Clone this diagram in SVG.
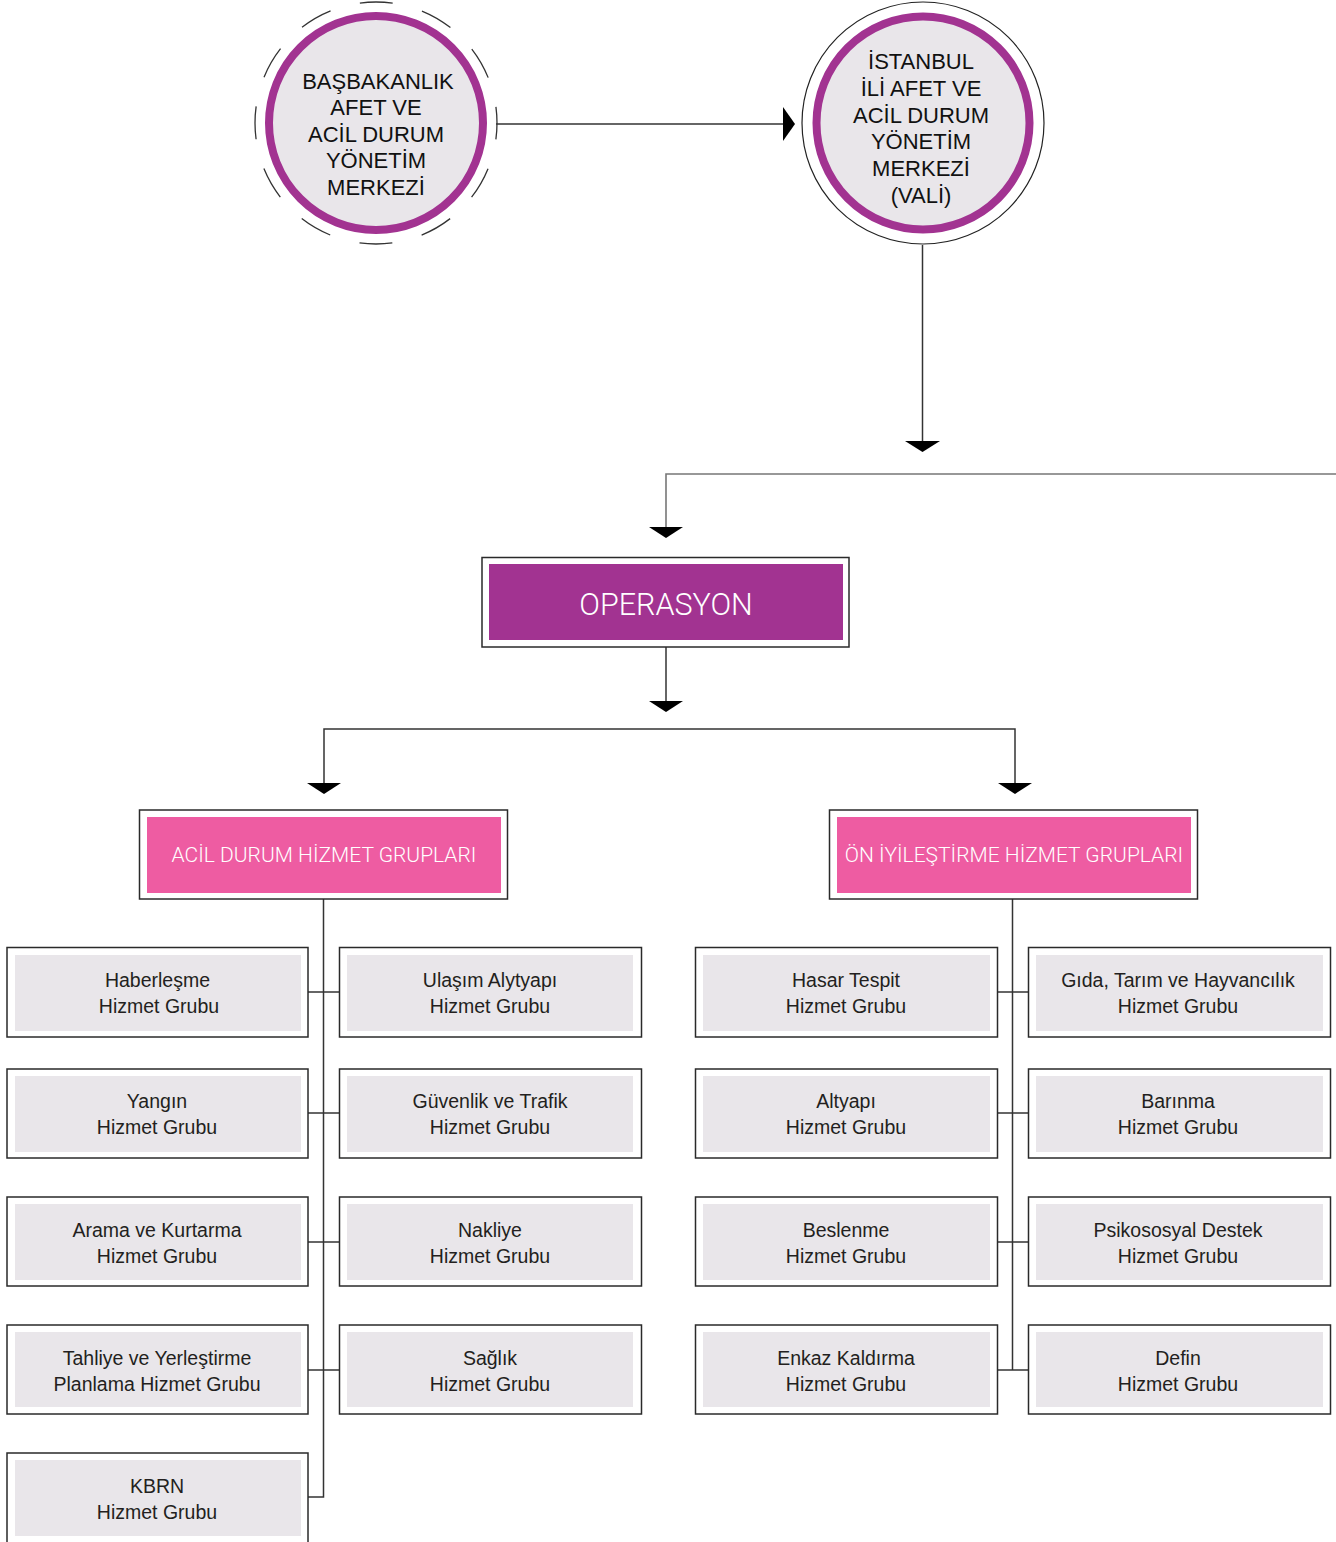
<svg xmlns="http://www.w3.org/2000/svg" width="1336" height="1542" viewBox="0 0 1336 1542">
<style>
.bg{fill:#ffffff}
.ring{fill:#E9E6EA;stroke:#A23391;stroke-width:8}
.ctext{font-family:"Liberation Sans",Arial,sans-serif;font-size:22px;fill:#111;text-anchor:middle}
.frame{fill:#fff;stroke:#2a2a2a;stroke-width:1.5}
.purple{fill:#A23391}
.pink{fill:#EE5CA2}
.grey{fill:#E9E6EA}
.htext{font-family:Roboto,"Liberation Sans",sans-serif;font-weight:300;fill:#fff;text-anchor:middle}
.btext{font-family:"Liberation Sans",Arial,sans-serif;font-size:19.5px;fill:#231F20;text-anchor:middle}
.conn{fill:none;stroke:#333;stroke-width:1.5}
.connl{fill:none;stroke:#777;stroke-width:1.6}
.head{fill:#000}
</style>
<rect class="bg" x="0" y="0" width="1336" height="1542"/>

<g id="connectors">
  <line class="conn" x1="496" y1="124" x2="785" y2="124"/>
  <polygon class="head" points="783,107 795,124 783,141"/>
  <line class="conn" x1="922.5" y1="245" x2="922.5" y2="442"/>
  <polygon class="head" points="905,441 940,441 922.5,452"/>
  <polyline class="connl" points="1336,474 666,474 666,528"/>
  <polygon class="head" points="649,527 683,527 666,538"/>
  <line class="conn" x1="666" y1="647" x2="666" y2="702"/>
  <polygon class="head" points="649,701 683,701 666,712"/>
  <polyline class="conn" points="324,784 324,729 1015,729 1015,784"/>
  <polygon class="head" points="307,783 341,783 324,794"/>
  <polygon class="head" points="998,783 1032,783 1015,794"/>
  <polyline class="conn" points="323.5,899 323.5,1497 308,1497"/>
  <line class="conn" x1="308" y1="992" x2="339" y2="992"/>
  <line class="conn" x1="308" y1="1113" x2="339" y2="1113"/>
  <line class="conn" x1="308" y1="1242" x2="339" y2="1242"/>
  <line class="conn" x1="308" y1="1370" x2="339" y2="1370"/>
  <line class="conn" x1="1012.5" y1="899" x2="1012.5" y2="1370"/>
  <line class="conn" x1="998" y1="992" x2="1028" y2="992"/>
  <line class="conn" x1="998" y1="1113" x2="1028" y2="1113"/>
  <line class="conn" x1="998" y1="1242" x2="1028" y2="1242"/>
  <line class="conn" x1="998" y1="1370" x2="1028" y2="1370"/>
</g>

<g id="basbakanlik">
  <circle cx="376" cy="123" r="121" fill="none" stroke="#333" stroke-width="1.3" stroke-dasharray="33 30.36" stroke-dashoffset="16.5"/>
  <circle class="ring" cx="376" cy="123" r="107"/>
  <text class="ctext" x="378" y="89">BAŞBAKANLIK</text>
  <text class="ctext" x="376" y="115">AFET VE</text>
  <text class="ctext" x="376" y="142">ACİL DURUM</text>
  <text class="ctext" x="376" y="168">YÖNETİM</text>
  <text class="ctext" x="376" y="195">MERKEZİ</text>
</g>

<g id="istanbul">
  <circle cx="923" cy="123" r="121" fill="none" stroke="#222" stroke-width="1.2"/>
  <circle class="ring" cx="923" cy="123" r="106.5"/>
  <text class="ctext" x="921" y="69">İSTANBUL</text>
  <text class="ctext" x="921" y="96">İLİ AFET VE</text>
  <text class="ctext" x="921" y="123">ACİL DURUM</text>
  <text class="ctext" x="921" y="149">YÖNETİM</text>
  <text class="ctext" x="921" y="176">MERKEZİ</text>
  <text class="ctext" x="921" y="203">(VALİ)</text>
</g>

<g id="operasyon">
  <rect class="frame" x="482" y="557.5" width="367" height="89.5"/>
  <rect class="purple" x="489" y="564" width="354" height="76"/>
  <text class="htext" x="666" y="615" font-size="30.5">OPERASYON</text>
</g>

<g id="acil-durum">
  <rect class="frame" x="139.5" y="810" width="368" height="89"/>
  <rect class="pink" x="147" y="817" width="354" height="76"/>
  <text class="htext" x="324" y="862" font-size="21">ACİL DURUM HİZMET GRUPLARI</text>
</g>

<g id="on-iyilestirme">
  <rect class="frame" x="829.5" y="810" width="368" height="89"/>
  <rect class="pink" x="837" y="817" width="354" height="76"/>
  <text class="htext" x="1014" y="862" font-size="21">ÖN İYİLEŞTİRME HİZMET GRUPLARI</text>
</g>

<g id="haberlesme">
  <rect class="frame" x="7" y="947.5" width="301" height="89.5"/>
  <rect class="grey" x="15" y="955" width="286" height="76"/>
  <text class="btext" x="157.5" y="987">Haberleşme</text>
  <text class="btext" x="159" y="1012.5">Hizmet Grubu</text>
</g>
<g id="ulasim">
  <rect class="frame" x="339.5" y="947.5" width="302" height="89.5"/>
  <rect class="grey" x="347" y="955" width="286" height="76"/>
  <text class="btext" x="490" y="987">Ulaşım Alytyapı</text>
  <text class="btext" x="490" y="1012.5">Hizmet Grubu</text>
</g>
<g id="yangin">
  <rect class="frame" x="7" y="1069" width="301" height="89"/>
  <rect class="grey" x="15" y="1076" width="286" height="76"/>
  <text class="btext" x="157" y="1108">Yangın</text>
  <text class="btext" x="157" y="1133.5">Hizmet Grubu</text>
</g>
<g id="guvenlik">
  <rect class="frame" x="339.5" y="1069" width="302" height="89"/>
  <rect class="grey" x="347" y="1076" width="286" height="76"/>
  <text class="btext" x="490" y="1108">Güvenlik ve Trafik</text>
  <text class="btext" x="490" y="1133.5">Hizmet Grubu</text>
</g>
<g id="arama">
  <rect class="frame" x="7" y="1197" width="301" height="89"/>
  <rect class="grey" x="15" y="1204" width="286" height="76"/>
  <text class="btext" x="157" y="1237">Arama ve Kurtarma</text>
  <text class="btext" x="157" y="1262.5">Hizmet Grubu</text>
</g>
<g id="nakliye">
  <rect class="frame" x="339.5" y="1197" width="302" height="89"/>
  <rect class="grey" x="347" y="1204" width="286" height="76"/>
  <text class="btext" x="490" y="1237">Nakliye</text>
  <text class="btext" x="490" y="1262.5">Hizmet Grubu</text>
</g>
<g id="tahliye">
  <rect class="frame" x="7" y="1325" width="301" height="89"/>
  <rect class="grey" x="15" y="1332" width="286" height="75"/>
  <text class="btext" x="157" y="1365">Tahliye ve Yerleştirme</text>
  <text class="btext" x="157" y="1390.5">Planlama Hizmet Grubu</text>
</g>
<g id="saglik">
  <rect class="frame" x="339.5" y="1325" width="302" height="89"/>
  <rect class="grey" x="347" y="1332" width="286" height="75"/>
  <text class="btext" x="490" y="1365">Sağlık</text>
  <text class="btext" x="490" y="1390.5">Hizmet Grubu</text>
</g>
<g id="kbrn">
  <rect class="frame" x="7" y="1453" width="301" height="100"/>
  <rect class="grey" x="15" y="1460" width="286" height="76"/>
  <text class="btext" x="157" y="1493">KBRN</text>
  <text class="btext" x="157" y="1518.5">Hizmet Grubu</text>
</g>

<g id="hasar">
  <rect class="frame" x="695.5" y="947.5" width="302" height="89.5"/>
  <rect class="grey" x="703" y="955" width="287" height="76"/>
  <text class="btext" x="846" y="987">Hasar Tespit</text>
  <text class="btext" x="846" y="1012.5">Hizmet Grubu</text>
</g>
<g id="gida">
  <rect class="frame" x="1028.5" y="947.5" width="302" height="89.5"/>
  <rect class="grey" x="1036" y="955" width="287" height="76"/>
  <text class="btext" x="1178" y="987">Gıda, Tarım ve Hayvancılık</text>
  <text class="btext" x="1178" y="1012.5">Hizmet Grubu</text>
</g>
<g id="altyapi">
  <rect class="frame" x="695.5" y="1069" width="302" height="89"/>
  <rect class="grey" x="703" y="1076" width="287" height="76"/>
  <text class="btext" x="846" y="1108">Altyapı</text>
  <text class="btext" x="846" y="1133.5">Hizmet Grubu</text>
</g>
<g id="barinma">
  <rect class="frame" x="1028.5" y="1069" width="302" height="89"/>
  <rect class="grey" x="1036" y="1076" width="287" height="76"/>
  <text class="btext" x="1178" y="1108">Barınma</text>
  <text class="btext" x="1178" y="1133.5">Hizmet Grubu</text>
</g>
<g id="beslenme">
  <rect class="frame" x="695.5" y="1197" width="302" height="89"/>
  <rect class="grey" x="703" y="1204" width="287" height="76"/>
  <text class="btext" x="846" y="1237">Beslenme</text>
  <text class="btext" x="846" y="1262.5">Hizmet Grubu</text>
</g>
<g id="psikososyal">
  <rect class="frame" x="1028.5" y="1197" width="302" height="89"/>
  <rect class="grey" x="1036" y="1204" width="287" height="76"/>
  <text class="btext" x="1178" y="1237">Psikososyal Destek</text>
  <text class="btext" x="1178" y="1262.5">Hizmet Grubu</text>
</g>
<g id="enkaz">
  <rect class="frame" x="695.5" y="1325" width="302" height="89"/>
  <rect class="grey" x="703" y="1332" width="287" height="75"/>
  <text class="btext" x="846" y="1365">Enkaz Kaldırma</text>
  <text class="btext" x="846" y="1390.5">Hizmet Grubu</text>
</g>
<g id="defin">
  <rect class="frame" x="1028.5" y="1325" width="302" height="89"/>
  <rect class="grey" x="1036" y="1332" width="287" height="75"/>
  <text class="btext" x="1178" y="1365">Defin</text>
  <text class="btext" x="1178" y="1390.5">Hizmet Grubu</text>
</g>
</svg>
